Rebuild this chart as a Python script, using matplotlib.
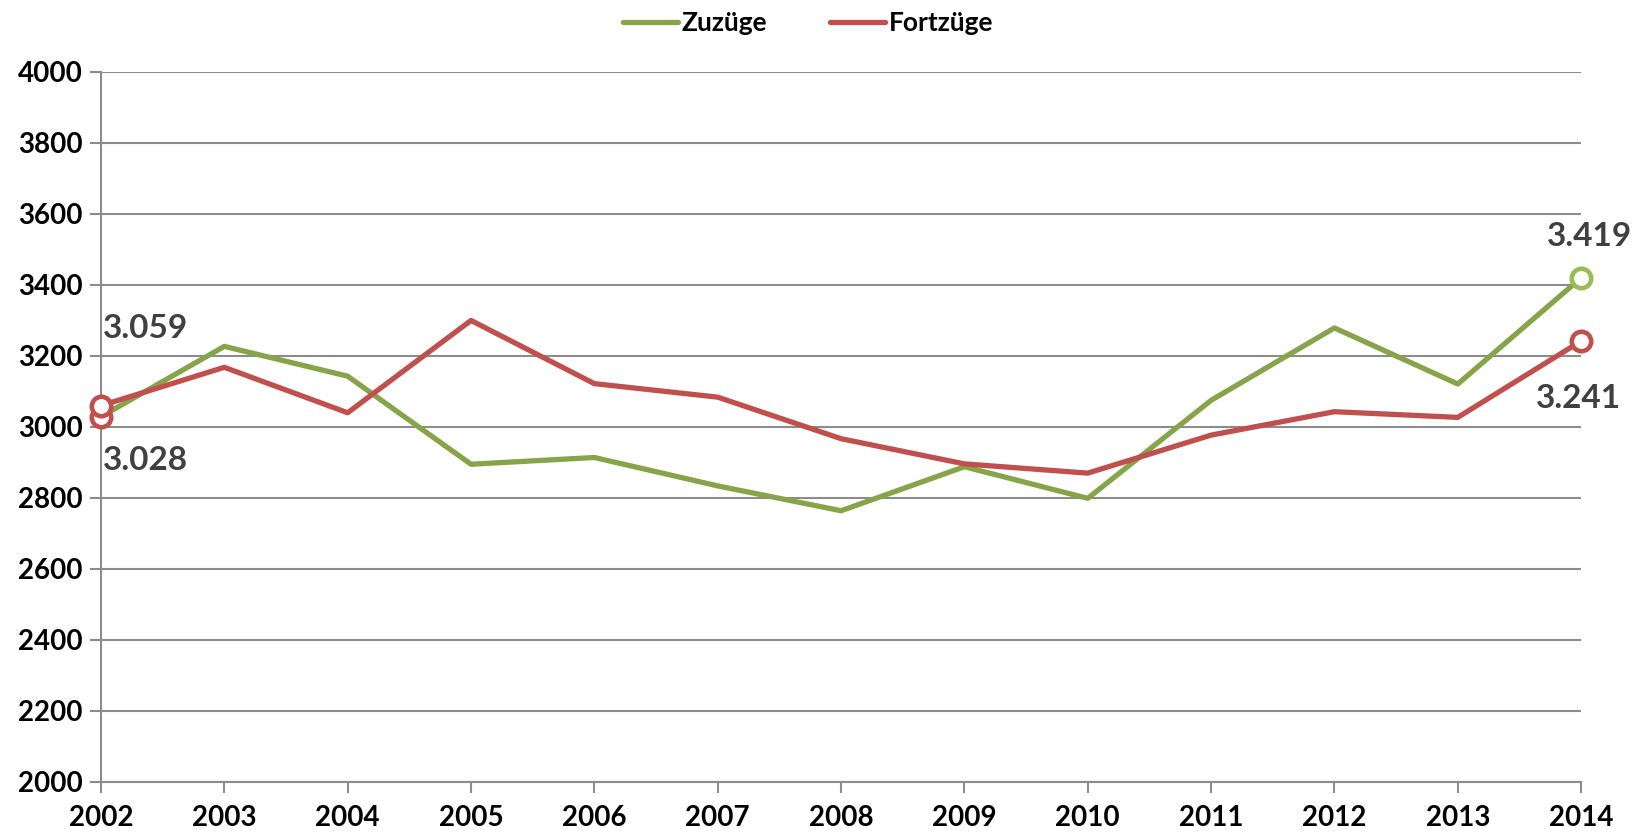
import matplotlib
matplotlib.use("Agg")
import matplotlib.pyplot as plt

years = [2002, 2003, 2004, 2005, 2006, 2007, 2008, 2009, 2010, 2011, 2012, 2013, 2014]
zuzuege = [3028, 3226, 3142, 2894, 2913, 2833, 2763, 2887, 2798, 3074, 3278, 3120, 3419]
fortzuege = [3059, 3167, 3039, 3299, 3121, 3083, 2966, 2895, 2869, 2976, 3042, 3026, 3241]
y_ticks = [2000, 2200, 2400, 2600, 2800, 3000, 3200, 3400, 3600, 3800, 4000]

green = "#86a44a"
green_marker = "#9bbb59"
red = "#c0504d"
grid_col = "#8c8c8c"

plt.rcParams['font.family'] = ['Lato', 'DejaVu Sans']

fig = plt.figure(figsize=(16.47, 8.32), dpi=100)
ax = fig.add_axes([0.0613, 0.0605, 0.8987, 0.8535])

ax.plot(years, zuzuege, color=green, lw=3.8, label="Zuzüge", zorder=3,
        solid_capstyle="round")
ax.plot(years, fortzuege, color=red, lw=3.8, label="Fortzüge", zorder=3,
        solid_capstyle="round")

# open circles at the first and last year (both start markers are red)
mk = dict(ls="none", marker="o", ms=14, mfc="white", mew=3.3, clip_on=False)
ax.plot([years[0]], [zuzuege[0]], mec=red, zorder=4, **mk)
ax.plot([years[0]], [fortzuege[0]], mec=red, zorder=5, **mk)
ax.plot([years[-1]], [zuzuege[-1]], mec=green_marker, zorder=4, **mk)
ax.plot([years[-1]], [fortzuege[-1]], mec=red, zorder=4, **mk)

def fmt(v):
    return f"{v:,}".replace(",", ".")

lab = dict(fontsize=24, color="#404040", fontweight="bold")
ax.annotate(fmt(fortzuege[0]), (years[0], fortzuege[0]), xytext=(2, 77),
            textcoords="offset pixels", ha="left", va="center", **lab)
ax.annotate(fmt(zuzuege[0]), (years[0], zuzuege[0]), xytext=(2, -44),
            textcoords="offset pixels", ha="left", va="center", **lab)
ax.annotate(fmt(zuzuege[-1]), (years[-1], zuzuege[-1]), xytext=(8, 41),
            textcoords="offset pixels", ha="center", va="center", **lab)
ax.annotate(fmt(fortzuege[-1]), (years[-1], fortzuege[-1]), xytext=(-3, -57),
            textcoords="offset pixels", ha="center", va="center", **lab)

ax.set_xlim(years[0], years[-1])
ax.set_ylim(2000, 4000)
ax.set_xticks(years)
ax.set_yticks(y_ticks)
ax.tick_params(axis="both", labelsize=20, colors=grid_col, labelcolor="black",
               width=1.5, length=8, direction="out")
for t in ax.get_xticklabels() + ax.get_yticklabels():
    t.set_fontweight("bold")
ax.tick_params(axis="x", pad=9)
ax.tick_params(axis="y", pad=5)

ax.yaxis.grid(True, color=grid_col, lw=1.5)
ax.set_axisbelow(True)
for s in ["top", "right"]:
    ax.spines[s].set_visible(False)
for s in ["left", "bottom"]:
    ax.spines[s].set_color(grid_col)
    ax.spines[s].set_linewidth(1.5)

leg = fig.legend(loc="upper center", bbox_to_anchor=(0.4905, 1.015), ncol=2,
                 frameon=False, handlelength=2.1, handletextpad=0.12,
                 columnspacing=2.4, prop={"weight": "bold", "size": 19})

fig.savefig("out.png", dpi=100)
